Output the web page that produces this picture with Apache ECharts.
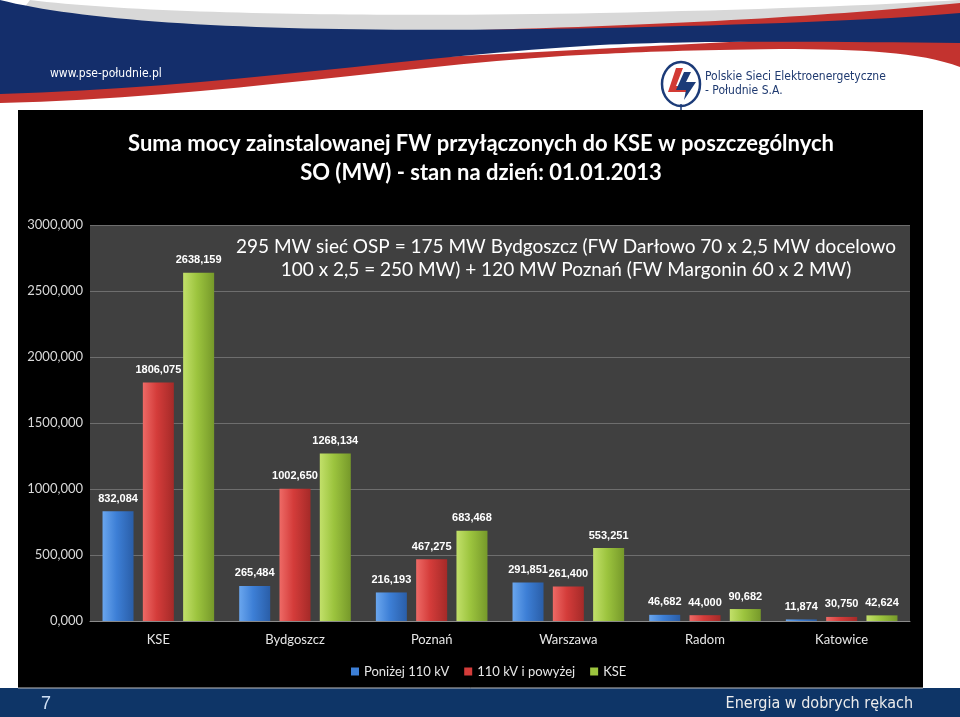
<!DOCTYPE html>
<html>
<head>
<meta charset="utf-8">
<script src="https://cdn.jsdelivr.net/npm/echarts@6/dist/echarts.min.js"></script>
<style>
  html, body { margin: 0; padding: 0; background: #fff; }
  #chart { width: 960px; height: 717px; }
</style>
</head>
<body>
<div id="chart"></div>
<script>
// dane z wykresu (MW)
var categories = ["KSE", "Bydgoszcz", "Poznań", "Warszawa", "Radom", "Katowice"];
var seriesNames = ["Poniżej 110 kV", "110 kV i powyżej", "KSE"];
var ponizej110 = [832.084, 265.484, 216.193, 291.851, 46.682, 11.874];
var powyzej110 = [1806.075, 1002.650, 467.275, 261.400, 44.000, 30.750];
var kse = [2638.159, 1268.134, 683.468, 553.251, 90.682, 42.624];
var yTicks = [0, 500, 1000, 1500, 2000, 2500, 3000];

var fmt = function (v) {
  return Number(v).toFixed(3).replace(".", ",");
};

function grad(light, mid, dark) {
  return {
    type: "linear", x: 0, y: 0, x2: 1, y2: 0,
    colorStops: [
      { offset: 0, color: light },
      { offset: 0.45, color: mid },
      { offset: 1, color: dark }
    ]
  };
}

// ksztalty naglowka (fala)
var shapes = {
  hdrGray: "M30,0 C150,15 400,17 600,13 C750,10 880,5 960,0 L960,20 L0,40 Z",
  hdrRedLow: "M0,80 L960,30 L960,67 C920,52 860,49 780,49 C690,50 640,52 600,54 C420,62 220,98 0,103 Z",
  hdrRedTop: "M480,30 C700,24 850,14 960,3 L960,18 C850,24 700,30 480,33 Z",
  hdrNavy: "M0,0 C100,25 300,34 600,28 C750,25 880,20 960,13 L960,43 C850,42 700,40 600,45 C420,55 220,88 0,94 Z"
};
Object.keys(shapes).forEach(function (k) {
  echarts.graphic.registerShape(k, echarts.graphic.extendPath(shapes[k], {}));
});

var colors = [
  grad("#6aa6ee", "#3d7fd6", "#2a5ea8"),
  grad("#ee6a66", "#d43c3a", "#a52a28"),
  grad("#c2e06a", "#9cc43e", "#76992a")
];
var legendColors = ["#3d7fd6", "#d43c3a", "#9cc43e"];
var data = [ponizej110, powyzej110, kse];

var chart = echarts.init(document.getElementById("chart"));

var series = data.map(function (d, i) {
  return {
    name: seriesNames[i],
    type: "bar",
    data: d,
    barWidth: 31,
    barGap: "30%",
    itemStyle: { color: colors[i] },
    label: {
      show: true,
      position: "top",
      distance: 7,
      color: "#fff",
      fontFamily: "Liberation Sans",
      fontWeight: "bold",
      fontSize: 11,
      formatter: function (p) { return fmt(p.value); }
    },
    animation: false
  };
});

chart.setOption({
  backgroundColor: "#fff",
  color: legendColors,
  title: {
    text: "Suma mocy zainstalowanej FW przyłączonych do KSE w poszczególnych\nSO (MW) - stan na dzień: 01.01.2013",
    left: 476,
    top: 124,
    textAlign: "center",
    textStyle: {
      color: "#fff",
      fontFamily: "Lato",
      fontWeight: "bold",
      fontSize: 22,
      lineHeight: 29
    }
  },
  legend: {
    data: seriesNames.map(function (n, i) {
      return { name: n, itemStyle: { color: legendColors[i] } };
    }),
    left: 346,
    top: 660,
    icon: "rect",
    itemWidth: 8,
    itemHeight: 8,
    itemGap: 15,
    textStyle: { color: "#e6e6e6", fontFamily: "Lato", fontSize: 13 }
  },
  grid: {
    left: 90,
    right: 50,
    top: 225,
    bottom: 96,
    show: true,
    backgroundColor: "#404040",
    borderWidth: 0
  },
  xAxis: {
    type: "category",
    data: categories,
    axisTick: { show: false },
    axisLine: { lineStyle: { color: "#8a8a8a" } },
    axisLabel: { color: "#e6e6e6", fontFamily: "Lato", fontSize: 13, margin: 12 }
  },
  yAxis: {
    type: "value",
    min: yTicks[0],
    max: yTicks[yTicks.length - 1],
    interval: 500,
    axisLine: { show: false },
    axisTick: { show: false },
    splitLine: { lineStyle: { color: "#6e6e6e" } },
    axisLabel: {
      color: "#d9d9d9",
      fontFamily: "Lato",
      fontSize: 13,
      margin: 7,
      formatter: fmt
    }
  },
  graphic: [
    // naglowek
    { type: "hdrGray", z: -10, style: { fill: "#d8d8d8" } },
    { type: "hdrRedLow", z: -9, style: { fill: "#c3332f" } },
    { type: "hdrRedTop", z: -9, style: { fill: "#c3332f" } },
    { type: "hdrNavy", z: -8, style: { fill: "#142e6b" } },
    { type: "text", z: -7, left: 50, top: 68, style: { text: "www.pse-południe.pl", fill: "#fff", font: "12px 'DejaVu Sans Condensed', 'DejaVu Sans'" } },
    // logo
    { type: "ellipse", z: -7, shape: { cx: 681, cy: 84, rx: 19, ry: 22 }, style: { fill: "#fff", stroke: "#1c3b78", lineWidth: 2.5 } },
    { type: "polygon", z: -6, shape: { points: [[676, 68], [683, 68], [676, 86], [690, 86], [686, 92], [668, 92]] }, style: { fill: "#d23a34" } },
    { type: "polygon", z: -6, shape: { points: [[684, 72], [691, 72], [686, 82], [696, 82], [684, 100], [686, 90], [676, 90]] }, style: { fill: "#1c3b78" } },
    { type: "line", z: -6, shape: { x1: 681, y1: 104, x2: 681, y2: 110 }, style: { stroke: "#1c3b78", lineWidth: 1.5 } },
    { type: "text", z: -7, left: 705, top: 70, style: { text: "Polskie Sieci Elektroenergetyczne\n- Południe S.A.", fill: "#1f3a70", lineHeight: 14, font: "12px 'DejaVu Sans Condensed', 'DejaVu Sans'" } },
    // czarne tlo wykresu
    { type: "rect", z: -20, shape: { x: 18, y: 110, width: 905, height: 578 }, style: { fill: "#000" } },
    // adnotacja
    {
      type: "text", z: 10,
      style: {
        x: 566, y: 235,
        text: "295 MW sieć OSP = 175 MW Bydgoszcz (FW Darłowo 70 x 2,5 MW docelowo\n100 x 2,5 = 250 MW) + 120 MW Poznań (FW Margonin 60 x 2 MW)",
        fill: "#fff", align: "center", lineHeight: 23,
        font: "19px Lato"
      }
    },
    // stopka
    { type: "rect", z: -20, shape: { x: 0, y: 688, width: 960, height: 29 }, style: { fill: "#0e3567" } },
    { type: "line", z: -19, shape: { x1: 18, y1: 688, x2: 923, y2: 688 }, style: { stroke: "#bfbfbf", lineWidth: 1 } },
    { type: "text", left: 41, top: 695, style: { text: "7", fill: "#cfe0f5", font: "18px 'Liberation Sans'" } },
    { type: "text", right: 47, top: 696, style: { text: "Energia w dobrych rękach", fill: "#ececec", font: "16px 'DejaVu Sans Condensed', 'DejaVu Sans'" } }
  ],
  series: series
});
</script>
</body>
</html>
